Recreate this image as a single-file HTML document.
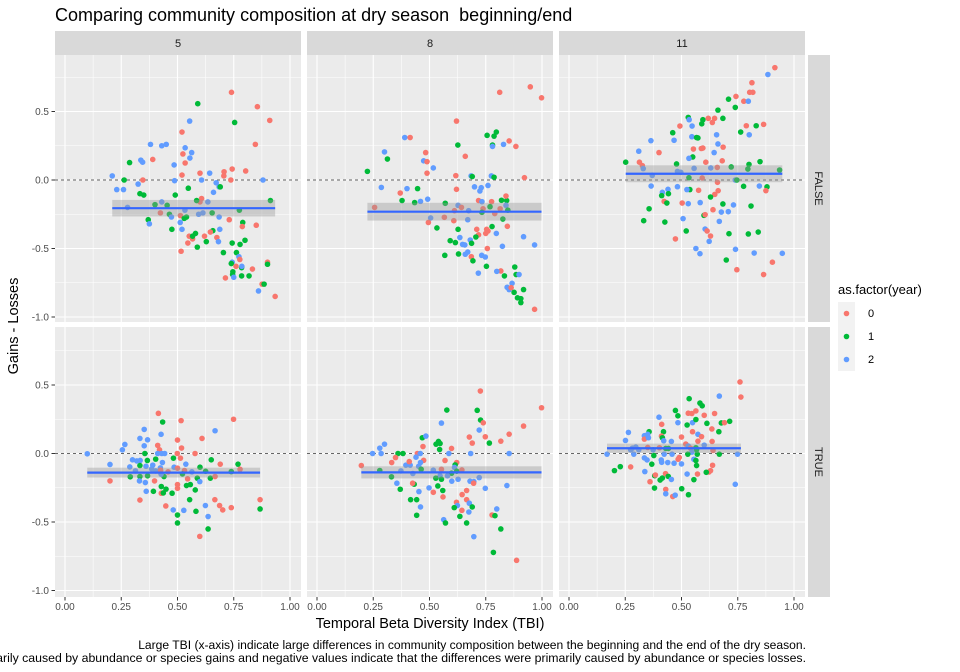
<!DOCTYPE html>
<html><head><meta charset="utf-8"><style>
html,body{margin:0;padding:0;background:#fff;}
svg{display:block;font-family:"Liberation Sans",sans-serif;}
</style></head><body>
<svg id="chart" width="960" height="672" viewBox="0 0 960 672">
<text x="55" y="21" font-size="18" fill="#000">Comparing community composition at dry season&#160; beginning/end</text>
<g id="panels"></g>
<text x="430" y="628" font-size="14.5" text-anchor="middle" fill="#000">Temporal Beta Diversity Index (TBI)</text>
<text transform="translate(18,326) rotate(-90)" font-size="14.5" text-anchor="middle" fill="#000">Gains - Losses</text>
<g>
<text x="838" y="294" font-size="13" fill="#000">as.factor(year)</text>
<g id="legend-keys"></g>
</g>
<text x="806" y="649" font-size="12.1" text-anchor="end" fill="#000">Large TBI (x-axis) indicate large differences in community composition between the beginning and the end of the dry season.</text>
<text x="806" y="662" font-size="12.3" text-anchor="end" fill="#000">Positive values indicate that the differences were primarily caused by abundance or species gains and negative values indicate that the differences were primarily caused by abundance or species losses.</text>
</svg>
<script>
const months = ["5","8","11"];
const seasonEnd = ["FALSE","TRUE"];
const years = ["0","1","2"];
const yearColors = ["#F8766D","#00BA38","#619CFF"];
const xTicks = [0,0.25,0.5,0.75,1];
const xTickLabels = ["0.00","0.25","0.50","0.75","1.00"];
const yTicks = [0.5,0,-0.5,-1];
const yTickLabels = ["0.5","0.0","-0.5","-1.0"];
// [TBI, gains-losses, year]
const p_5_F = [[.74,.64,0],[.855,.535,0],[.91,.435,0],[.59,.557,1],[.754,.42,1],[.554,.43,2],[.52,.35,0],[.38,.26,2],[.43,.25,2],[.45,.26,2],[.846,.26,0],[.534,.235,2],[.524,.19,0],[.563,.2,2],[.555,.16,2],[.39,.15,0],[.287,.127,1],[.337,.145,2],[.345,.13,2],[.485,.11,2],[.534,.124,0],[.52,.036,0],[.6,.05,0],[.643,.05,2],[.707,.06,0],[.706,.03,0],[.743,.08,0],[.803,.066,0],[.737,0,0],[.21,.03,2],[.263,0,1],[.346,0,0],[.325,-.03,2],[.487,-.005,2],[.607,0,2],[.672,-.02,2],[.88,0,2],[.23,-.07,2],[.26,-.07,2],[.548,-.06,1],[.685,-.05,2],[.69,-.05,1],[.66,-.09,2],[.333,-.1,1],[.35,-.11,1],[.49,-.11,1],[.607,-.135,0],[.6,-.16,0],[.585,-.15,1],[.635,-.16,2],[.913,-.15,1],[.4,-.18,1],[.43,-.16,2],[.454,-.185,1],[.278,-.2,2],[.533,-.22,2],[.594,-.25,2],[.613,-.24,2],[.654,-.24,1],[.775,-.22,1],[.424,-.24,0],[.464,-.25,1],[.473,-.27,2],[.513,-.26,0],[.53,-.28,1],[.54,-.27,1],[.685,-.27,2],[.73,-.29,0],[.79,-.31,1],[.788,-.34,0],[.85,-.33,0],[.37,-.29,1],[.375,-.32,2],[.512,-.31,2],[.475,-.36,1],[.52,-.36,2],[.657,-.37,1],[.646,-.38,0],[.688,-.36,2],[.552,-.41,0],[.567,-.43,0],[.567,-.41,1],[.58,-.39,1],[.62,-.41,0],[.675,-.42,0],[.682,-.45,2],[.628,-.45,1],[.588,-.49,1],[.546,-.46,0],[.516,-.52,0],[.743,-.46,1],[.778,-.47,1],[.8,-.44,1],[.704,-.53,1],[.762,-.53,1],[.773,-.56,2],[.777,-.58,0],[.743,-.6,2],[.739,-.61,1],[.76,-.63,0],[.785,-.64,1],[.786,-.63,2],[.833,-.65,0],[.746,-.67,1],[.745,-.69,1],[.713,-.715,0],[.75,-.71,2],[.785,-.7,1],[.818,-.7,1],[.9,-.6,0],[.9,-.615,1],[.876,-.76,0],[.885,-.76,1],[.86,-.81,2],[.934,-.85,0]];
const p_8_F = [[.948,.68,0],[.812,.64,0],[.998,.6,0],[.62,.43,0],[.39,.31,2],[.414,.31,0],[.756,.326,1],[.787,.32,1],[.797,.35,1],[.626,.255,1],[.854,.285,0],[.829,.26,2],[.78,.255,1],[.78,.245,2],[.884,.245,0],[.659,.173,0],[.3,.205,2],[.313,.153,1],[.483,.2,0],[.474,.14,2],[.489,.134,0],[.517,.088,2],[.489,.05,0],[.224,.063,1],[.617,.032,0],[.685,.03,2],[.69,.025,1],[.775,.03,2],[.787,.02,1],[.922,.017,0],[.286,-.054,2],[.4,-.063,2],[.447,-.063,1],[.37,-.095,0],[.378,-.15,1],[.434,-.165,1],[.46,-.156,2],[.492,-.14,2],[.62,-.068,0],[.7,-.05,2],[.73,-.056,2],[.724,-.08,2],[.76,-.04,2],[.57,-.17,1],[.718,-.15,0],[.776,-.158,0],[.82,-.148,1],[.843,-.15,1],[.84,-.117,0],[.733,-.158,2],[.84,-.185,2],[.814,-.21,0],[.848,-.22,1],[.769,-.195,1],[.738,-.21,0],[.733,-.236,1],[.79,-.245,0],[.256,-.2,0],[.627,-.185,2],[.611,-.224,0],[.642,-.2,0],[.674,-.224,2],[.505,-.277,2],[.566,-.272,0],[.608,-.297,0],[.67,-.29,2],[.495,-.31,0],[.533,-.35,1],[.826,-.285,1],[.846,-.338,0],[.778,-.34,1],[.627,-.36,1],[.71,-.36,0],[.718,-.4,0],[.754,-.36,0],[.76,-.372,0],[.75,-.39,0],[.797,-.39,2],[.706,-.416,1],[.635,-.42,2],[.681,-.438,2],[.592,-.443,1],[.615,-.457,1],[.647,-.47,2],[.657,-.474,2],[.687,-.462,1],[.918,-.414,2],[.967,-.474,2],[.824,-.484,2],[.757,-.5,0],[.568,-.55,1],[.629,-.54,1],[.659,-.542,2],[.67,-.526,2],[.686,-.56,0],[.693,-.59,1],[.732,-.55,2],[.748,-.562,2],[.753,-.63,1],[.817,-.664,0],[.799,-.667,2],[.717,-.68,2],[.833,-.7,1],[.879,-.635,1],[.885,-.69,1],[.898,-.69,2],[.867,-.754,2],[.845,-.783,2],[.854,-.8,2],[.863,-.786,0],[.876,-.82,1],[.891,-.86,1],[.906,-.866,1],[.906,-.895,1],[.918,-.8,1],[.967,-.944,0]];
const p_11_F = [[.915,.82,0],[.884,.77,2],[.813,.71,0],[.803,.64,0],[.817,.64,0],[.742,.61,0],[.777,.575,0],[.797,.575,2],[.709,.59,1],[.739,.53,1],[.662,.51,1],[.53,.457,1],[.534,.44,2],[.595,.44,1],[.59,.41,1],[.619,.45,0],[.647,.45,0],[.637,.42,0],[.684,.45,1],[.493,.394,0],[.547,.394,2],[.788,.396,0],[.832,.396,1],[.865,.406,0],[.763,.35,1],[.801,.33,2],[.461,.345,1],[.467,.29,2],[.546,.316,2],[.567,.31,1],[.573,.307,1],[.656,.33,2],[.662,.263,2],[.685,.24,0],[.645,.2,2],[.553,.226,0],[.588,.23,0],[.595,.233,0],[.55,.168,1],[.533,.158,2],[.364,.287,2],[.31,.21,2],[.4,.2,0],[.252,.13,1],[.313,.13,0],[.326,.105,0],[.33,.083,2],[.478,.117,1],[.608,.13,0],[.681,.14,0],[.63,.088,2],[.659,.092,0],[.556,.085,2],[.721,.095,1],[.8,.114,1],[.849,.134,1],[.795,.08,1],[.936,.073,1],[.482,.063,2],[.497,.056,2],[.37,.034,2],[.533,.017,1],[.592,.015,0],[.739,0,2],[.746,0,1],[.365,-.044,2],[.66,-.017,0],[.482,-.049,2],[.537,-.07,1],[.524,-.07,2],[.576,-.075,0],[.776,-.046,1],[.846,-.044,2],[.88,-.05,1],[.875,-.078,0],[.44,-.068,2],[.415,-.09,2],[.442,-.1,1],[.412,-.114,1],[.423,-.156,0],[.435,-.168,1],[.503,-.168,0],[.53,-.173,2],[.648,-.105,0],[.663,-.078,0],[.629,-.124,1],[.583,-.165,2],[.684,-.175,1],[.731,-.182,2],[.64,-.217,0],[.677,-.234,2],[.708,-.231,2],[.809,-.19,1],[.356,-.21,1],[.332,-.297,1],[.426,-.307,1],[.507,-.282,2],[.6,-.258,1],[.605,-.253,0],[.668,-.302,2],[.521,-.372,1],[.605,-.358,2],[.614,-.372,0],[.629,-.409,0],[.623,-.448,2],[.473,-.43,0],[.711,-.392,1],[.797,-.394,1],[.841,-.38,1],[.564,-.5,2],[.582,-.538,2],[.74,-.506,2],[.823,-.533,2],[.948,-.535,2],[.699,-.584,1],[.746,-.655,0],[.904,-.6,0],[.865,-.69,0]];
const p_5_T = [[.415,.293,0],[.434,.23,1],[.516,.24,0],[.749,.25,0],[.667,.166,2],[.352,.176,2],[.427,.14,2],[.333,.11,2],[.367,.1,2],[.5,.098,0],[.609,.11,0],[.266,.066,2],[.255,.027,2],[.352,.056,2],[.412,.059,0],[.42,.027,0],[.099,-.002,2],[.355,0,1],[.412,0,2],[.43,0,2],[.443,0,2],[.499,0,0],[.518,.04,0],[.578,0,0],[.513,-.034,0],[.482,-.034,1],[.65,-.046,1],[.537,-.078,2],[.69,-.078,0],[.769,-.078,1],[.778,-.115,0],[.2,-.08,2],[.3,-.046,2],[.319,-.054,2],[.334,-.051,2],[.366,-.051,1],[.288,-.098,2],[.333,-.088,1],[.36,-.093,2],[.39,-.085,2],[.385,-.112,2],[.403,-.127,2],[.433,-.066,2],[.424,-.105,2],[.403,-.041,1],[.313,-.127,2],[.425,-.122,0],[.485,-.1,2],[.458,-.134,0],[.5,-.107,0],[.531,-.124,0],[.522,-.149,1],[.6,-.1,1],[.625,-.13,1],[.564,-.134,2],[.739,-.132,1],[.2,-.2,0],[.29,-.17,1],[.333,-.168,1],[.367,-.163,1],[.331,-.2,2],[.357,-.212,2],[.398,-.2,0],[.44,-.168,1],[.427,-.151,2],[.545,-.185,0],[.588,-.18,1],[.599,-.205,2],[.646,-.18,1],[.667,-.168,0],[.361,-.276,2],[.393,-.276,1],[.428,-.241,1],[.449,-.26,1],[.428,-.29,0],[.437,-.288,1],[.476,-.29,1],[.5,-.227,0],[.5,-.254,0],[.54,-.234,1],[.557,-.227,1],[.579,-.266,1],[.333,-.34,0],[.448,-.383,0],[.554,-.337,1],[.481,-.412,2],[.528,-.415,2],[.582,-.422,1],[.666,-.337,0],[.687,-.38,0],[.701,-.412,0],[.739,-.395,0],[.624,-.38,2],[.636,-.46,2],[.5,-.449,1],[.5,-.507,1],[.636,-.551,1],[.599,-.605,0],[.867,-.337,0],[.867,-.405,1]];
const p_8_T = [[.726,.456,0],[.998,.334,0],[.577,.317,1],[.712,.315,1],[.727,.244,1],[.739,.224,0],[.553,.222,2],[.918,.2,0],[.721,.171,2],[.854,.141,0],[.817,.09,0],[.766,.076,1],[.748,.122,0],[.677,.12,0],[.69,.076,0],[.468,.115,1],[.484,.127,2],[.54,.088,1],[.529,.068,1],[.547,.073,1],[.545,.029,1],[.471,.051,0],[.3,.068,2],[.279,.039,2],[.247,0,2],[.285,0,2],[.36,0,1],[.382,0,1],[.446,0,0],[.459,0,2],[.598,.037,0],[.586,0,2],[.683,0,2],[.854,0,2],[.349,-.03,0],[.332,-.066,0],[.395,-.085,2],[.414,-.085,2],[.41,-.059,0],[.44,-.027,2],[.474,-.05,0],[.46,-.066,2],[.452,-.093,2],[.463,-.115,1],[.197,-.088,0],[.279,-.124,1],[.373,-.127,2],[.426,-.146,2],[.331,-.17,1],[.569,-.051,0],[.621,-.066,0],[.614,-.083,1],[.611,-.102,2],[.598,-.144,1],[.621,-.129,1],[.644,-.12,0],[.517,-.122,2],[.553,-.115,0],[.547,-.163,2],[.58,-.163,2],[.528,-.18,1],[.553,-.188,1],[.599,-.202,2],[.627,-.188,2],[.68,-.202,2],[.697,-.205,2],[.721,-.176,2],[.696,-.217,0],[.355,-.217,2],[.37,-.261,1],[.432,-.224,1],[.425,-.217,0],[.453,-.278,2],[.498,-.251,2],[.537,-.237,1],[.517,-.283,0],[.56,-.317,0],[.559,-.27,1],[.665,-.27,0],[.645,-.3,0],[.665,-.337,0],[.416,-.337,1],[.443,-.337,1],[.46,-.39,2],[.443,-.451,1],[.62,-.356,0],[.624,-.38,2],[.61,-.395,1],[.677,-.363,2],[.69,-.39,1],[.644,-.415,0],[.675,-.427,2],[.635,-.459,1],[.563,-.483,2],[.571,-.507,1],[.665,-.507,1],[.748,-.254,2],[.844,-.234,2],[.799,-.405,2],[.778,-.449,0],[.791,-.454,1],[.817,-.551,1],[.697,-.607,2],[.784,-.722,1],[.887,-.78,0]];
const p_11_T = [[.76,.522,0],[.764,.412,0],[.668,.419,2],[.534,.4,1],[.582,.368,1],[.592,.348,1],[.473,.314,1],[.484,.275,1],[.53,.294,0],[.546,.292,0],[.564,.311,0],[.601,.279,0],[.647,.292,0],[.4,.265,2],[.412,.213,0],[.484,.225,2],[.525,.208,1],[.549,.225,2],[.564,.248,1],[.613,.22,1],[.677,.223,1],[.714,.235,1],[.691,.225,0],[.635,.179,0],[.264,.154,2],[.356,.159,1],[.335,.13,2],[.35,.14,2],[.335,.105,0],[.353,.115,2],[.42,.159,1],[.411,.127,0],[.415,.115,1],[.421,.093,2],[.455,.088,2],[.5,.12,0],[.549,.159,0],[.573,.14,2],[.589,.123,0],[.573,.09,0],[.666,.159,1],[.636,.088,0],[.251,.095,2],[.601,.061,2],[.519,.069,0],[.53,.054,2],[.564,.042,1],[.567,.027,1],[.54,.039,0],[.546,.01,2],[.64,.022,0],[.282,.039,2],[.297,.047,2],[.31,.027,2],[.274,.027,2],[.169,-.005,2],[.288,-.005,2],[.35,.044,0],[.374,.027,2],[.402,.042,0],[.43,.037,1],[.442,.037,1],[.423,-.005,2],[.458,-.005,2],[.528,-.005,1],[.57,-.005,1],[.668,-.005,1],[.749,-.005,2],[.377,-.015,1],[.335,-.032,2],[.347,-.047,2],[.368,-.078,1],[.274,-.098,0],[.202,-.125,1],[.228,-.096,1],[.41,-.047,2],[.412,-.064,2],[.439,-.066,2],[.467,-.071,2],[.49,-.029,0],[.485,-.042,0],[.5,-.076,2],[.555,-.042,2],[.567,-.088,1],[.564,-.051,1],[.638,-.086,0],[.629,-.125,0],[.622,-.135,0],[.61,-.137,1],[.337,-.132,2],[.381,-.162,1],[.384,-.157,0],[.405,-.194,1],[.415,-.179,1],[.429,-.147,0],[.441,-.167,1],[.455,-.189,2],[.525,-.15,2],[.571,-.15,0],[.555,-.191,1],[.36,-.206,0],[.38,-.252,1],[.43,-.262,0],[.43,-.294,2],[.461,-.314,0],[.472,-.304,2],[.501,-.257,1],[.531,-.301,1],[.739,-.225,2]];
const panelData = [[p_5_F,p_8_F,p_11_F],[p_5_T,p_8_T,p_11_T]];

const NS="http://www.w3.org/2000/svg";
const colLeft=[55,307,559], colW=246;
const rowTop=[55,327], rowH=[267,270];
const rowZero=[180,453.5], yUnit=137, xUnit=225;
function mk(tag,attrs,parent){const e=document.createElementNS(NS,tag);for(const k in attrs)e.setAttribute(k,attrs[k]);parent.appendChild(e);return e;}
function xs(c,v){return colLeft[c]+10+v*xUnit;}
function ys(r,v){return rowZero[r]-v*yUnit;}
const root=document.getElementById('panels');

for(let c=0;c<3;c++){
  const g=mk('g',{},root);
  
  
  mk('rect',{x:colLeft[c],y:31,width:colW,height:24,fill:'#D9D9D9'},g);
  const t=mk('text',{x:colLeft[c]+colW/2,y:47,'font-size':11,'text-anchor':'middle',fill:'#1A1A1A'},g);
  t.textContent=months[c];
}
for(let r=0;r<2;r++){
  const g=mk('g',{},root);
  
  
  mk('rect',{x:808,y:rowTop[r],width:22,height:rowH[r],fill:'#D9D9D9'},g);
  const cy=rowTop[r]+rowH[r]/2;
  const t=mk('text',{x:819,y:cy,'font-size':11,'text-anchor':'middle',fill:'#1A1A1A',transform:`rotate(90 819 ${cy}) translate(0 4)`},g);
  t.textContent=seasonEnd[r];
}
for(let r=0;r<2;r++){
  for(let c=0;c<3;c++){
    const g=mk('g',{},root);
    
    
    const L=colLeft[c],T=rowTop[r],H=rowH[r];
    mk('rect',{x:L,y:T,width:colW,height:H,fill:'#EBEBEB'},g);
    for(let i=0;i<4;i++){const v=-0.75+i*0.5;const y=ys(r,v);if(y>T&&y<T+H)mk('line',{x1:L,x2:L+colW,y1:y,y2:y,stroke:'#fff','stroke-width':0.55},g);}
    for(let i=0;i<4;i++){const x=xs(c,0.125+i*0.25);mk('line',{x1:x,x2:x,y1:T,y2:T+H,stroke:'#fff','stroke-width':0.55},g);}
    yTicks.forEach(v=>{const y=ys(r,v);mk('line',{x1:L,x2:L+colW,y1:y,y2:y,stroke:'#fff','stroke-width':1.1},g);});
    xTicks.forEach(v=>{const x=xs(c,v);mk('line',{x1:x,x2:x,y1:T,y2:T+H,stroke:'#fff','stroke-width':1.1},g);});
    const zl=mk('line',{x1:L,x2:L+colW,y1:ys(r,0),y2:ys(r,0),stroke:'#666','stroke-width':1,'stroke-dasharray':'3,3'},g);
    
    
    const pts=panelData[r][c];
    pts.forEach(p=>{
      const d=mk('circle',{cx:xs(c,p[0]),cy:ys(r,p[1]),r:2.8,fill:yearColors[p[2]]},g);
      
      
    });
    const n=pts.length;let sum=0,mn=1e9,mx=-1e9;
    pts.forEach(p=>{sum+=p[1];mn=Math.min(mn,p[0]);mx=Math.max(mx,p[0]);});
    const mean=sum/n;let ss=0;pts.forEach(p=>{ss+=(p[1]-mean)**2;});
    const se=Math.sqrt(ss/(n-1))/Math.sqrt(n)*1.97;
    const band=mk('rect',{x:xs(c,mn),y:ys(r,mean+se),width:xs(c,mx)-xs(c,mn),height:2*se*yUnit,fill:'#999999','fill-opacity':0.4},g);
    
    
    const fl=mk('line',{x1:xs(c,mn),x2:xs(c,mx),y1:ys(r,mean),y2:ys(r,mean),stroke:'#3366FF','stroke-width':2.2},g);
    
    
  }
  yTicks.forEach((v,i)=>{
    const y=ys(r,v);
    mk('line',{x1:51.5,x2:55,y1:y,y2:y,stroke:'#333','stroke-width':1},root);
    const t=mk('text',{x:49,y:y+3.5,'font-size':10,'text-anchor':'end',fill:'#4D4D4D'},root);
    
    
    t.textContent=yTickLabels[i];
  });
}
for(let c=0;c<3;c++){
  xTicks.forEach((v,i)=>{
    const x=xs(c,v);
    mk('line',{x1:x,x2:x,y1:597,y2:600.5,stroke:'#333','stroke-width':1},root);
    const t=mk('text',{x:x,y:610,'font-size':10,'text-anchor':'middle',fill:'#4D4D4D'},root);
    
    
    t.textContent=xTickLabels[i];
  });
}
const lg=document.getElementById('legend-keys');
years.forEach((yv,i)=>{
  const g=mk('g',{},lg);
  
  
  const y=302+i*23;
  mk('rect',{x:838,y:y,width:17,height:23,fill:'#F2F2F2'},g);
  mk('circle',{cx:846.5,cy:y+11.5,r:2.8,fill:yearColors[i]},g);
  const t=mk('text',{x:868,y:y+15,'font-size':11,fill:'#000'},g);
  t.textContent=yv;
});
</script>
</body></html>
